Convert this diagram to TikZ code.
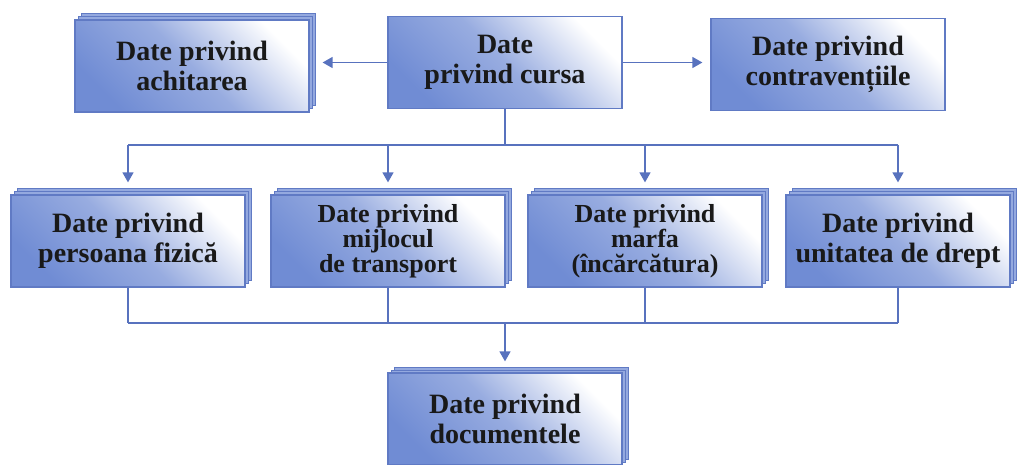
\documentclass[tikz,border=0pt]{standalone}
\usepackage{fontspec}
\setmainfont{Liberation Serif}
\usetikzlibrary{shadows,arrows.meta}

\definecolor{boxblue}{RGB}{112,140,212}
\definecolor{edgeblue}{RGB}{96,122,196}
\definecolor{lineblue}{RGB}{88,114,190}

\begin{document}
\begin{tikzpicture}[x=1pt, y=-1pt,
  box/.style={draw=edgeblue, line width=1.2pt, left color=boxblue, right color=white,
    middle color=boxblue!72!white, shading angle=135, minimum width=234pt, minimum height=92pt,
    inner sep=0pt, align=center, text=black!90, font=\fontsize{28}{30}\selectfont\bfseries},
  stacked/.style={copy shadow={shadow xshift=6pt, shadow yshift=6pt, fill=boxblue!75!white, draw=edgeblue, line width=1pt},
    copy shadow={shadow xshift=3pt, shadow yshift=3pt, fill=boxblue!75!white, draw=edgeblue, line width=1pt}},
  tight/.style={font=\fontsize{26}{25}\selectfont\bfseries},
  link/.style={draw=lineblue, line width=1.4pt},
  arr/.style={link, -{Triangle[width=11pt, length=10pt]}}]

\useasboundingbox (0,0) rectangle (1018,465);

% top row
\node[box] (cursa) at (505,62.5) {Date\\privind cursa};
\node[box, stacked] (achit) at (192,66) {Date privind\\achitarea};
\node[box] (contrav) at (828,64.5) {Date privind\\contravențiile};

% middle row
\node[box, stacked] (pers) at (128,241) {Date privind\\persoana fizică};
\node[box, stacked, tight] (mijl) at (388,241) {Date privind\\mijlocul\\de transport};
\node[box, stacked, tight] (marfa) at (645,241) {Date privind\\marfa\\(încărcătura)};
\node[box, stacked, minimum width=224pt] (unit) at (898,241) {Date privind\\unitatea de drept};

% bottom
\node[box, stacked] (doc) at (505,419) {Date privind\\documentele};

\draw[arr, shorten >=13pt] (cursa.west) -- (cursa.west -| achit.east);
\draw[arr, shorten >=8pt] (cursa.east) -- (cursa.east -| contrav.west);

\coordinate (bus) at (505,145);
\coordinate (lowbus) at (505,323);

\draw[link] (cursa.south) -- (bus);
\draw[link] (pers.north |- bus) -- (unit.north |- bus);
\foreach \n in {pers,mijl,marfa,unit}
  \draw[arr, shorten >=12pt] (\n.north |- bus) -- (\n.north);

\foreach \n in {pers,mijl,marfa,unit}
  \draw[link] (\n.south) -- (\n.south |- lowbus);
\draw[link] (pers.south |- lowbus) -- (unit.south |- lowbus);
\draw[arr, shorten >=11pt] (lowbus) -- (doc.north);
\end{tikzpicture}
\end{document}
